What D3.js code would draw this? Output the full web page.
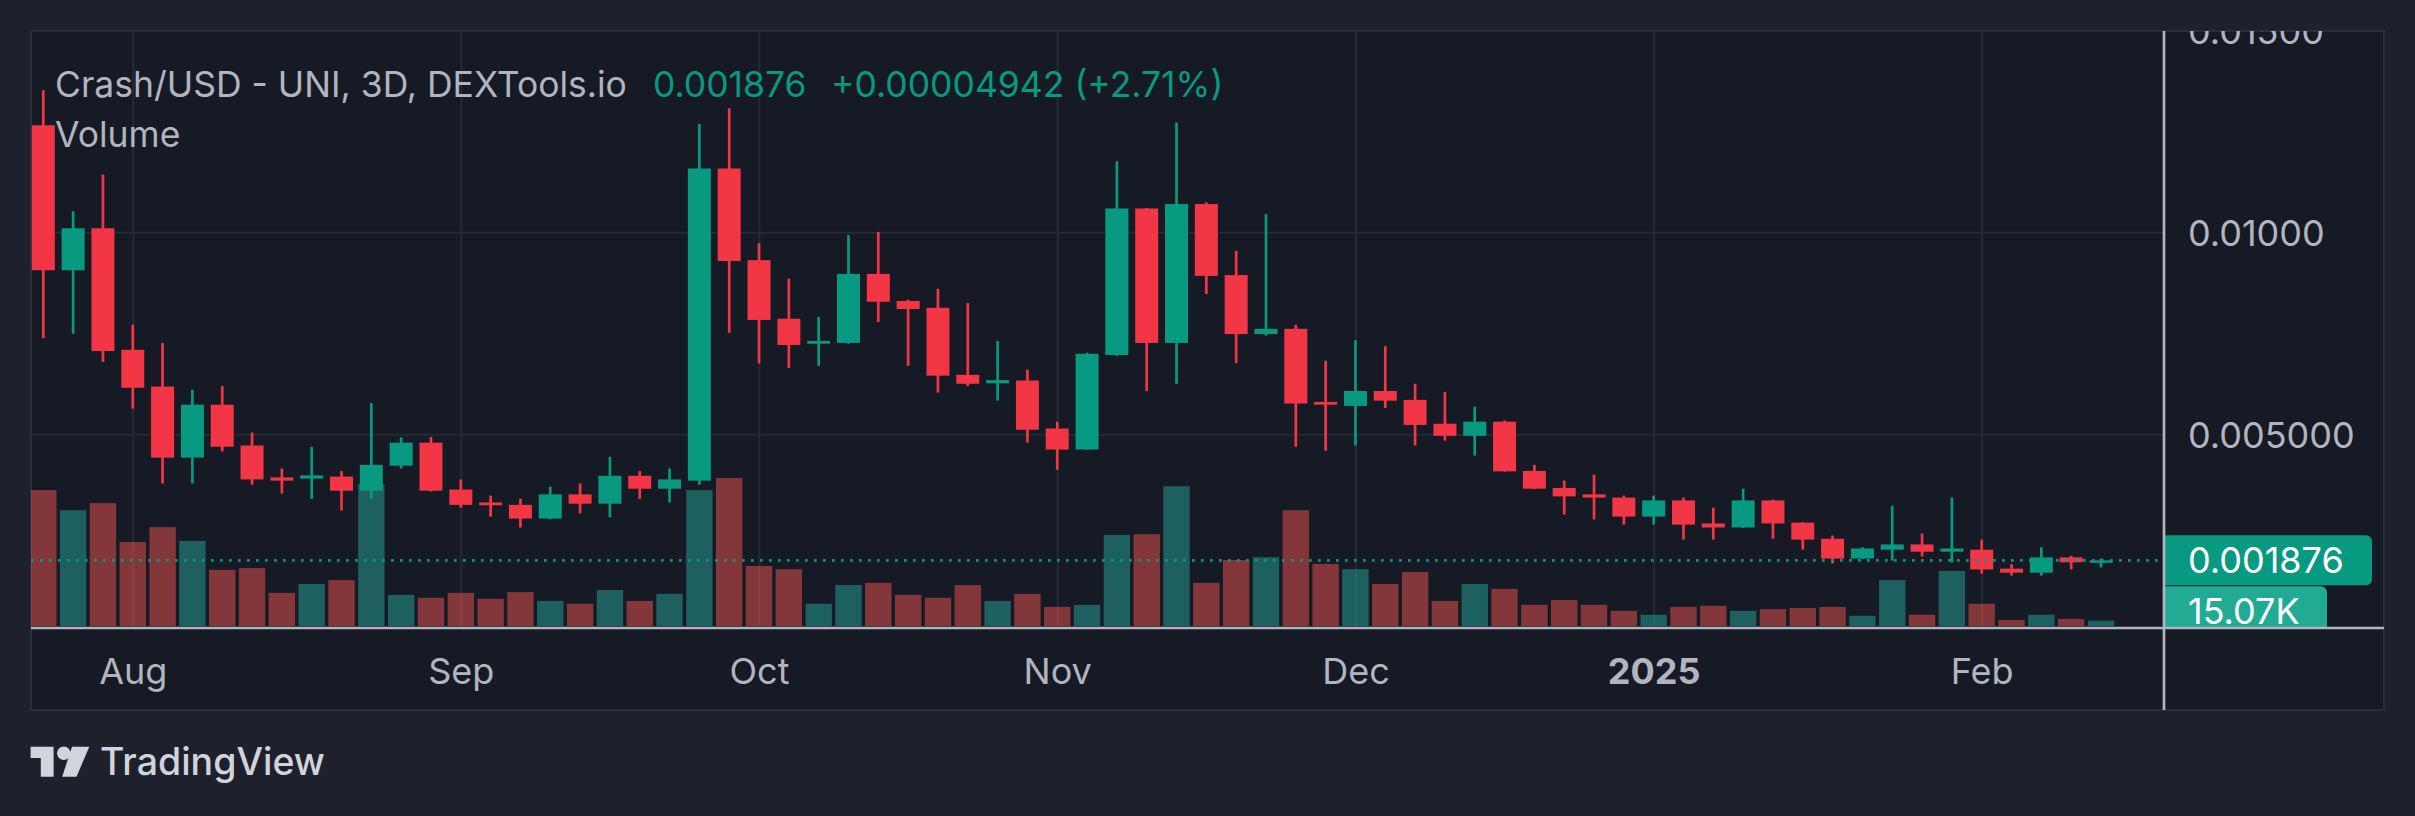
<!DOCTYPE html>
<html lang="en">
<head>
<meta charset="UTF-8">
<title>Crash/USD - UNI, 3D</title>
<script src="https://d3js.org/d3.v7.min.js"></script>
<style>
    body { margin: 0; background: #1e212b; }
    svg { display: block; }
    text { font-family: Inter, Roboto, sans-serif; }
</style>
</head>
<body>
<svg id="chart" width="2415" height="816"></svg>
<script>
    // 3D bars, Jul 23 2024 .. Feb 15 2025
    const dates = [
        "2024-07-23","2024-07-26","2024-07-29","2024-08-01","2024-08-04","2024-08-07","2024-08-10","2024-08-13","2024-08-16","2024-08-19",
        "2024-08-22","2024-08-25","2024-08-28","2024-08-31","2024-09-03","2024-09-06","2024-09-09","2024-09-12","2024-09-15","2024-09-18",
        "2024-09-21","2024-09-24","2024-09-27","2024-09-30","2024-10-03","2024-10-06","2024-10-09","2024-10-12","2024-10-15","2024-10-18",
        "2024-10-21","2024-10-24","2024-10-27","2024-10-30","2024-11-02","2024-11-05","2024-11-08","2024-11-11","2024-11-14","2024-11-17",
        "2024-11-20","2024-11-23","2024-11-26","2024-11-29","2024-12-02","2024-12-05","2024-12-08","2024-12-11","2024-12-14","2024-12-17",
        "2024-12-20","2024-12-23","2024-12-26","2024-12-29","2025-01-01","2025-01-04","2025-01-07","2025-01-10","2025-01-13","2025-01-16",
        "2025-01-19","2025-01-22","2025-01-25","2025-01-28","2025-01-31","2025-02-03","2025-02-06","2025-02-09","2025-02-12","2025-02-15"
    ];
    const opens = [
        .01265,.00906,.01010,.00709,.00618,.00442,.00573,.00472,.00393,.00390,
        .00395,.00360,.00422,.00479,.00363,.00331,.00325,.00291,.00351,.00328,
        .00397,.00365,.00385,.01158,.00931,.00786,.00724,.00726,.00897,.00830,
        .00813,.00647,.00626,.00633,.00514,.00462,.00696,.01059,.00726,.01070,
        .00894,.00748,.00761,.00580,.00570,.00607,.00585,.00526,.00496,.00531,
        .00409,.00367,.00351,.00343,.00296,.00336,.00279,.00269,.00336,.00281,
        .00241,.00192,.00214,.00227,.00209,.00214,.00167,.00157,.00195,.001827
    ];
    const highs = [
        .01352,.01052,.01143,.00771,.00726,.00610,.00619,.00504,.00415,.00469,
        .00409,.00577,.00492,.00493,.00388,.00348,.00340,.00370,.00378,.00444,
        .00409,.00415,.01268,.01307,.00973,.00885,.00790,.00993,.01001,.00833,
        .00860,.00825,.00731,.00660,.00531,.00702,.01176,.01060,.01272,.01074,
        .00954,.01045,.00771,.00682,.00733,.00718,.00625,.00605,.00568,.00534,
        .00424,.00385,.00400,.00348,.00348,.00343,.00318,.00365,.00338,.00282,
        .00249,.00220,.00323,.00254,.00343,.00239,.00178,.00220,.00199,.00192
    ];
    const lows = [
        .00738,.00749,.00679,.00563,.00378,.00378,.00457,.00375,.00353,.00340,
        .00311,.00340,.00415,.00358,.00318,.00296,.00269,.00289,.00304,.00294,
        .00340,.00331,.00375,.00751,.00675,.00664,.00669,.00724,.00778,.00669,
        .00603,.00619,.00583,.00479,.00412,.00461,.00694,.00607,.00625,.00847,
        .00676,.00744,.00469,.00459,.00472,.00565,.00472,.00484,.00447,.00407,
        .00364,.00301,.00289,.00276,.00276,.00239,.00239,.00268,.00241,.00214,
        .00180,.00191,.00187,.00197,.00182,.00155,.00150,.00150,.00165,.00170
    ];
    const closes = [
        .00906,.01010,.00706,.00615,.00442,.00573,.00469,.00388,.00385,.00398,
        .00360,.00424,.00479,.00360,.00325,.00324,.00291,.00351,.00328,.00397,
        .00365,.00388,.01158,.00929,.00783,.00721,.00731,.00897,.00828,.00810,
        .00645,.00625,.00634,.00511,.00462,.00699,.01059,.00726,.01070,.00892,
        .00748,.00761,.00576,.00573,.00607,.00583,.00523,.00496,.00531,.00408,
        .00365,.00346,.00343,.00296,.00336,.00276,.00269,.00336,.00279,.00239,
        .00192,.00217,.00227,.00209,.00217,.00165,.00157,.00195,.001827,.001876
    ];
    // volume in thousands
    const volumes = [
        385,328,348,238,280,241,159,164,94,119,
        130,402,88,80,94,77,96,71,63,102,
        71,91,385,419,170,161,63,116,122,88,
        80,116,71,91,54,60,258,260,396,122,
        187,195,328,176,161,119,153,71,119,105,
        60,74,60,43,32,54,57,43,48,51,
        54,29,130,32,156,63,17,32,20,15.07
    ];

    const priceTicks = [0.015, 0.01, 0.005];
    const priceTickLabels = ["0.01500", "0.01000", "0.005000"];
    const monthTicks = ["2024-08-01","2024-09-03","2024-10-03","2024-11-02","2024-12-02","2025-01-01","2025-02-03"];
    const monthLabels = ["Aug", "Sep", "Oct", "Nov", "Dec", "2025", "Feb"];

    const lastPrice = 0.001876;
    const lastPriceLabel = "0.001876";
    const lastVolumeLabel = "15.07K";
    const legendTitle = "Crash/USD - UNI, 3D, DEXTools.io";
    const legendChange = "+0.00004942 (+2.71%)";

    const up = "#089981", down = "#f23645";
    const upVol = "rgba(38,166,154,0.5)", downVol = "rgba(239,83,80,0.5)";
    const textColor = "#b2b5be", gridColor = "#262a35", scaleLine = "#b2b5be";

    const panel = {left: 31, top: 31, right: 2384, bottom: 710};
    const axisX = 2164;      // price scale border
    const plotBottom = 627;  // time scale border

    const bars = dates.map((d, i) => ({date: d, o: opens[i], h: highs[i], l: lows[i], c: closes[i], v: volumes[i]}));

    const x = d3.scalePoint().domain(dates).range([43.3, 2101]);
    const y = d3.scaleLinear().domain([0, 0.015]).range([636.1, 30.4]);
    const yVol = d3.scaleLinear().domain([0, 500]).range([626, 449.5]);

    const svg = d3.select("#chart");

    svg.append("defs").append("clipPath").attr("id", "panelClip")
        .append("rect")
        .attr("x", panel.left).attr("y", panel.top)
        .attr("width", panel.right - panel.left).attr("height", panel.bottom - panel.top);

    svg.append("rect")
        .attr("x", panel.left).attr("y", panel.top)
        .attr("width", panel.right - panel.left).attr("height", panel.bottom - panel.top)
        .attr("fill", "#161a25").attr("stroke", "#2a2e39").attr("stroke-width", 2);

    const g = svg.append("g").attr("clip-path", "url(#panelClip)");

    // vertical grid + month labels
    const xAxis = g.append("g")
        .attr("transform", `translate(0,${plotBottom})`)
        .call(d3.axisBottom(x).tickValues(monthTicks)
            .tickSize(-(plotBottom - panel.top)).tickPadding(31)
            .tickFormat((d, i) => monthLabels[i]));
    xAxis.select(".domain").remove();
    xAxis.attr("font-family", null).attr("font-size", 36);
    xAxis.selectAll("line").attr("stroke", gridColor).attr("stroke-width", 2);
    xAxis.selectAll("text").attr("fill", textColor)
        .attr("font-weight", (d, i) => monthLabels[i] === "2025" ? 700 : 400);

    // horizontal grid + price labels
    const yAxis = g.append("g")
        .attr("transform", `translate(${axisX},0)`)
        .call(d3.axisRight(y).tickValues(priceTicks)
            .tickSize(-(axisX - panel.left)).tickPadding(24)
            .tickFormat((d, i) => priceTickLabels[i]));
    yAxis.select(".domain").remove();
    yAxis.attr("font-family", null).attr("font-size", 36);
    yAxis.selectAll("line").attr("stroke", gridColor).attr("stroke-width", 2);
    yAxis.selectAll("text").attr("fill", textColor).attr("dy", "0.36em");

    // volume
    g.selectAll(".vol")
        .data(bars)
        .join("rect")
        .attr("class", "vol")
        .attr("x", d => x(d.date) - 13.2)
        .attr("width", 26.4)
        .attr("y", d => yVol(d.v))
        .attr("height", d => yVol(0) - yVol(d.v))
        .attr("fill", d => d.c >= d.o ? upVol : downVol);

    // candles
    g.selectAll(".wick")
        .data(bars)
        .join("line")
        .attr("class", "wick")
        .attr("x1", d => x(d.date)).attr("x2", d => x(d.date))
        .attr("y1", d => y(d.h)).attr("y2", d => y(d.l))
        .attr("stroke", d => d.c >= d.o ? up : down)
        .attr("stroke-width", 2.7);

    g.selectAll(".body")
        .data(bars)
        .join("rect")
        .attr("class", "body")
        .attr("x", d => x(d.date) - 11.5)
        .attr("width", 23)
        .attr("y", d => y(Math.max(d.o, d.c)))
        .attr("height", d => Math.max(2.5, Math.abs(y(d.o) - y(d.c))))
        .attr("fill", d => d.c >= d.o ? up : down);

    // last price line
    g.append("line")
        .attr("x1", panel.left).attr("x2", axisX)
        .attr("y1", y(lastPrice)).attr("y2", y(lastPrice))
        .attr("stroke", up).attr("stroke-width", 2.6)
        .attr("stroke-dasharray", "2.7 6.3");

    // price / volume labels on the scale (volume one is cut by the time scale)
    const py = y(lastPrice);
    g.append("path")
        .attr("d", `M${axisX},${py + 26} V${plotBottom} H${2327} V${py + 32} a6,6 0 0 0 -6,-6 Z`)
        .attr("fill", "#22ab94");
    g.append("text")
        .attr("x", axisX + 24).attr("y", py + 64)
        .attr("font-size", 36).attr("fill", "#ffffff")
        .text(lastVolumeLabel);

    g.append("path")
        .attr("d", `M${axisX},${py - 25} H${2366} a6,6 0 0 1 6,6 V${py + 19} a6,6 0 0 1 -6,6 H${axisX} Z`)
        .attr("fill", up);
    g.append("text")
        .attr("x", axisX + 24).attr("y", py + 13)
        .attr("font-size", 36).attr("fill", "#ffffff")
        .text(lastPriceLabel);

    // scale borders
    g.append("line")
        .attr("x1", panel.left).attr("x2", panel.right)
        .attr("y1", plotBottom + 1).attr("y2", plotBottom + 1)
        .attr("stroke", scaleLine).attr("stroke-width", 2.7);
    g.append("line")
        .attr("x1", axisX).attr("x2", axisX)
        .attr("y1", panel.top).attr("y2", panel.bottom)
        .attr("stroke", scaleLine).attr("stroke-width", 2.7);

    // legend
    g.append("text").attr("x", 55).attr("y", 97)
        .attr("font-size", 35.5).attr("fill", textColor).text(legendTitle);
    g.append("text").attr("x", 653).attr("y", 97)
        .attr("font-size", 35.5).attr("fill", up).text(lastPriceLabel);
    g.append("text").attr("x", 831).attr("y", 97)
        .attr("font-size", 35.5).attr("fill", up).text(legendChange);
    g.append("text").attr("x", 55).attr("y", 147)
        .attr("font-size", 35.5).attr("fill", textColor).text("Volume");

    // TradingView mark
    const logo = svg.append("g").attr("fill", "#d1d4dc");
    logo.append("path").attr("d", "M30.6,746.7 H53.6 V776.7 H40.8 V758 H30.6 Z");
    logo.append("circle").attr("cx", 63.8).attr("cy", 753.3).attr("r", 6.7);
    logo.append("path").attr("d", "M72,746.7 H89.3 L76.5,776.7 H62.2 Z");
    svg.append("text").attr("x", 100).attr("y", 775)
        .attr("font-size", 37.5).attr("font-weight", 500).attr("fill", "#d1d4dc")
        .text("TradingView");
</script>
</body>
</html>
